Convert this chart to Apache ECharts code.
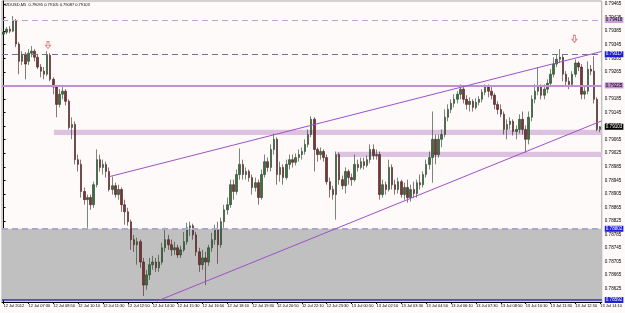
<!DOCTYPE html>
<html><head><meta charset="utf-8">
<script src="https://cdn.jsdelivr.net/npm/echarts@6/dist/echarts.min.js"></script>
<style>html,body{margin:0;padding:0;background:#fffafa}#c{width:625px;height:313px}</style>
</head><body><div id="c"></div>
<script>
const titleText = 'NZDUSD,M5  0.79095 0.79105 0.79087 0.79103';
const footerText = 'FxPro MT4, \u00a9 2001-2012, MetaQuotes Software Corp.';
const tickLabels = ['12 Jul 2012','12 Jul 07:30','12 Jul 08:50','12 Jul 10:10','12 Jul 11:30','12 Jul 12:50','12 Jul 14:10','12 Jul 15:30','12 Jul 16:50','12 Jul 18:10','12 Jul 19:30','12 Jul 20:50','12 Jul 22:10','12 Jul 23:30','13 Jul 00:50','13 Jul 02:10','13 Jul 03:30','13 Jul 04:50','13 Jul 06:10','13 Jul 07:30','13 Jul 08:50','13 Jul 10:10','13 Jul 11:30','13 Jul 12:50','13 Jul 14:10'];
const priceTicks = [0.78625,0.78665,0.78705,0.78745,0.78785,0.78825,0.78865,0.78905,0.78945,0.78985,0.79025,0.79065,0.79105,0.79145,0.79185,0.79225,0.79265,0.79305,0.79345,0.79385,0.79425,0.79465];

const opens = [
0.79376,0.79382,0.79391,0.79385,0.79415,0.79347,0.79296,0.79317,0.79296,0.79320,
0.79326,0.79308,0.79279,0.79267,0.79258,0.79314,0.79243,0.79220,0.79169,0.79199,
0.79208,0.79178,0.79101,0.79110,0.79006,0.78992,0.78912,0.78888,0.78894,0.78873,
0.78932,0.79006,0.78983,0.78992,0.78971,0.78918,0.78929,0.78903,0.78918,0.78873,
0.78852,0.78823,0.78770,0.78755,0.78764,0.78704,0.78636,0.78666,0.78696,0.78704,
0.78687,0.78704,0.78746,0.78770,0.78755,0.78740,0.78746,0.78725,0.78740,0.78764,
0.78805,0.78811,0.78784,0.78734,0.78696,0.78716,0.78704,0.78746,0.78770,0.78799,
0.78755,0.78823,0.78858,0.78873,0.78932,0.78912,0.78962,0.78992,0.78962,0.78971,
0.78953,0.78924,0.78938,0.78894,0.78962,0.79000,0.78983,0.79036,0.79066,0.78962,
0.78983,0.78953,0.78992,0.79006,0.78998,0.79012,0.79021,0.79030,0.79051,0.79080,
0.79125,0.79036,0.79021,0.79030,0.79012,0.78941,0.78918,0.78903,0.79021,0.78947,
0.78929,0.78971,0.78953,0.78947,0.78992,0.78983,0.79000,0.78989,0.79006,0.79036,
0.79018,0.79021,0.78903,0.78932,0.78918,0.78983,0.78932,0.78918,0.78941,0.78903,
0.78924,0.78894,0.78918,0.78906,0.78938,0.78932,0.78962,0.78992,0.79012,0.79066,
0.79021,0.79066,0.79080,0.79131,0.79154,0.79172,0.79184,0.79199,0.79214,0.79184,
0.79169,0.79178,0.79160,0.79175,0.79184,0.79205,0.79220,0.79208,0.79196,0.79169,
0.79154,0.79140,0.79095,0.79110,0.79119,0.79089,0.79095,0.79125,0.79095,0.79066,
0.79131,0.79184,0.79208,0.79220,0.79196,0.79214,0.79231,0.79258,0.79288,0.79302,
0.79308,0.79258,0.79237,0.79228,0.79258,0.79291,0.79279,0.79199,0.79208,0.79273,
0.79267,0.79184,0.79095];
const closes = [
0.79382,0.79391,0.79385,0.79415,0.79347,0.79296,0.79317,0.79288,0.79320,0.79326,
0.79308,0.79279,0.79267,0.79258,0.79314,0.79243,0.79220,0.79169,0.79199,0.79208,
0.79178,0.79101,0.79110,0.79006,0.78992,0.78912,0.78888,0.78894,0.78873,0.78932,
0.79006,0.78983,0.78992,0.78971,0.78918,0.78929,0.78903,0.78918,0.78873,0.78852,
0.78823,0.78770,0.78755,0.78764,0.78704,0.78636,0.78666,0.78696,0.78704,0.78687,
0.78704,0.78746,0.78770,0.78755,0.78740,0.78746,0.78725,0.78740,0.78764,0.78805,
0.78811,0.78784,0.78734,0.78696,0.78716,0.78704,0.78746,0.78770,0.78799,0.78755,
0.78823,0.78858,0.78873,0.78932,0.78912,0.78962,0.78992,0.78962,0.78971,0.78953,
0.78924,0.78938,0.78894,0.78962,0.79000,0.78983,0.79036,0.79066,0.78962,0.78983,
0.78953,0.78992,0.79006,0.78998,0.79012,0.79021,0.79030,0.79051,0.79080,0.79125,
0.79036,0.79021,0.79030,0.79012,0.78941,0.78918,0.78903,0.79021,0.78947,0.78929,
0.78971,0.78953,0.78947,0.78992,0.78983,0.79000,0.78989,0.79006,0.79036,0.79018,
0.79021,0.78903,0.78932,0.78918,0.78983,0.78932,0.78918,0.78941,0.78903,0.78924,
0.78894,0.78918,0.78906,0.78938,0.78932,0.78962,0.78992,0.79012,0.79066,0.79021,
0.79066,0.79080,0.79131,0.79154,0.79172,0.79184,0.79199,0.79214,0.79184,0.79169,
0.79178,0.79160,0.79175,0.79184,0.79205,0.79220,0.79208,0.79196,0.79169,0.79154,
0.79140,0.79095,0.79110,0.79119,0.79089,0.79095,0.79125,0.79095,0.79066,0.79131,
0.79184,0.79208,0.79220,0.79196,0.79214,0.79231,0.79258,0.79288,0.79302,0.79308,
0.79258,0.79237,0.79228,0.79258,0.79291,0.79279,0.79199,0.79208,0.79273,0.79267,
0.79184,0.79095,0.79103];
const lows = [
0.79370,0.79376,0.79379,0.79382,0.79338,0.79258,0.79285,0.79243,0.79285,0.79308,
0.79296,0.79273,0.79249,0.79243,0.79252,0.79237,0.79199,0.79131,0.79160,0.79184,
0.79166,0.79095,0.79066,0.78992,0.78971,0.78894,0.78873,0.78805,0.78858,0.78864,
0.78924,0.78971,0.78962,0.78953,0.78912,0.78903,0.78894,0.78888,0.78852,0.78814,
0.78811,0.78740,0.78734,0.78696,0.78687,0.78604,0.78622,0.78651,0.78681,0.78675,
0.78675,0.78696,0.78734,0.78740,0.78722,0.78725,0.78716,0.78716,0.78734,0.78755,
0.78781,0.78770,0.78722,0.78675,0.78681,0.78636,0.78693,0.78734,0.78755,0.78699,
0.78746,0.78805,0.78844,0.78864,0.78888,0.78903,0.78947,0.78947,0.78947,0.78941,
0.78903,0.78912,0.78873,0.78888,0.78953,0.78971,0.78971,0.79021,0.78932,0.78941,
0.78932,0.78947,0.78977,0.78983,0.78989,0.79000,0.79006,0.79021,0.79042,0.79072,
0.78971,0.79000,0.79006,0.79000,0.78932,0.78894,0.78888,0.78829,0.78932,0.78918,
0.78906,0.78932,0.78929,0.78941,0.78971,0.78977,0.78977,0.78983,0.78995,0.79006,
0.79006,0.78888,0.78894,0.78903,0.78912,0.78918,0.78903,0.78906,0.78894,0.78888,
0.78879,0.78882,0.78894,0.78894,0.78918,0.78924,0.78953,0.78977,0.78938,0.78992,
0.79012,0.79042,0.79072,0.79119,0.79143,0.79160,0.79172,0.79184,0.79172,0.79154,
0.79148,0.79148,0.79154,0.79166,0.79175,0.79196,0.79190,0.79184,0.79154,0.79140,
0.79131,0.79080,0.79066,0.79095,0.79077,0.79066,0.79083,0.79080,0.79027,0.79051,
0.79119,0.79172,0.79196,0.79184,0.79184,0.79202,0.79220,0.79249,0.79279,0.79291,
0.79237,0.79225,0.79214,0.79220,0.79249,0.79267,0.79184,0.79184,0.79199,0.79255,
0.79172,0.79090,0.79087];
const highs = [
0.79391,0.79397,0.79400,0.79430,0.79421,0.79353,0.79326,0.79323,0.79332,0.79341,
0.79332,0.79317,0.79288,0.79279,0.79326,0.79320,0.79249,0.79225,0.79214,0.79220,
0.79214,0.79184,0.79131,0.79119,0.79021,0.79006,0.78924,0.78903,0.78903,0.78941,
0.79036,0.79021,0.79006,0.79000,0.78983,0.78956,0.78938,0.78932,0.78924,0.78888,
0.78864,0.78829,0.78784,0.78776,0.78770,0.78716,0.78681,0.78716,0.78722,0.78716,
0.78725,0.78761,0.78805,0.78784,0.78770,0.78764,0.78755,0.78752,0.78793,0.78820,
0.78823,0.78817,0.78793,0.78746,0.78740,0.78734,0.78755,0.78790,0.78814,0.78823,
0.78835,0.78873,0.78894,0.78947,0.78947,0.78977,0.79039,0.79006,0.78983,0.78977,
0.78962,0.78953,0.78947,0.78977,0.79021,0.79012,0.79051,0.79083,0.79072,0.79000,
0.78992,0.79006,0.79021,0.79021,0.79024,0.79036,0.79042,0.79066,0.79095,0.79134,
0.79131,0.79042,0.79042,0.79036,0.79021,0.78953,0.78929,0.79030,0.79027,0.78959,
0.78983,0.78977,0.78965,0.79021,0.79006,0.79012,0.79012,0.79018,0.79051,0.79051,
0.79036,0.79030,0.78947,0.78941,0.79006,0.78992,0.78947,0.78953,0.78947,0.78938,
0.78947,0.78932,0.78941,0.78947,0.78962,0.78971,0.79006,0.79030,0.79148,0.79080,
0.79080,0.79095,0.79154,0.79169,0.79184,0.79199,0.79208,0.79228,0.79220,0.79196,
0.79190,0.79184,0.79187,0.79193,0.79214,0.79228,0.79228,0.79220,0.79202,0.79178,
0.79169,0.79148,0.79125,0.79131,0.79125,0.79107,0.79140,0.79148,0.79107,0.79148,
0.79196,0.79228,0.79279,0.79228,0.79228,0.79243,0.79273,0.79308,0.79317,0.79332,
0.79317,0.79267,0.79249,0.79267,0.79302,0.79296,0.79288,0.79220,0.79296,0.79285,
0.79311,0.79190,0.79105];

// horizontal objects
const hLevels = [0.79418, 0.79317, 0.79225, 0.78802, 0.78592];
const lastPrice = 0.79103;
// trend lines: [[barIndex, price], [barIndex, price]]
const upperTrend = [[34.1, 0.78956], [192.4, 0.79325]];
const lowerTrend = [[49.5, 0.78589], [192.4, 0.79120]];
// rectangles: [barStart, barEnd, priceTop, priceBottom]
const band1 = [16.2, 192.5, 0.79094, 0.79079];
const band2 = [107.2, 192.5, 0.79029, 0.79014];
const grayZone = [-0.5, 192.5, 0.78802, 0.78592];
// arrows: [barIndex, price]
const arrows = [[14.3, 0.79344], [183.7, 0.79362]];

const N = opens.length;
const cats = opens.map((_, i) => i);
const ohlc = opens.map((o, i) => [o, closes[i], lows[i], highs[i]]);
const X0 = -0.5, X1 = N - 0.5;

const chart = echarts.init(document.getElementById('c'), null, {renderer: 'canvas'});
const FONT = 'Liberation Sans';
function hLine(v, color, type, width, bg, fg) {
  return [
    {coord: [X0, v], lineStyle: {color: color, type: type, width: width},
     label: {show: true, position: 'end', distance: 3, formatter: v.toFixed(5),
       backgroundColor: bg, color: fg, fontSize: 4.6, fontFamily: FONT, padding: [1, 1, 0, 1]}},
    {coord: [X1, v]}
  ];
}
const option = {
  animation: false,
  backgroundColor: '#fffafa',
  grid: {left: 2, right: 21, top: 1, bottom: 11, show: true, borderColor: '#a8a8a8', borderWidth: 1, backgroundColor: '#fffafa'},
  xAxis: [{
    type: 'category', data: cats, boundaryGap: true,
    axisLine: {lineStyle: {color: '#000', width: 1}},
    axisTick: {show: true, interval: 7, alignWithLabel: true, length: 2, lineStyle: {color: '#000'}},
    axisLabel: {interval: 7, align: 'left', margin: 2, fontSize: 4, fontFamily: FONT, color: '#000',
      formatter: (v, idx) => (idx % 8 === 0 ? tickLabels[idx / 8] : '')},
    splitLine: {show: false}
  }, {
    type: 'value', min: X0, max: X1, show: false
  }],
  yAxis: {
    type: 'value', position: 'right', min: 0.78586, max: 0.79474, scale: true,
    axisLine: {show: true, lineStyle: {color: '#000'}},
    axisTick: {show: true, length: 2, customValues: priceTicks, lineStyle: {color: '#000'}},
    axisLabel: {customValues: priceTicks, margin: 3, fontSize: 4.6, fontFamily: FONT, color: '#000',
      formatter: v => v.toFixed(5)},
    splitLine: {show: false}
  },
  graphic: [
    {type: 'text', left: 3, top: 3, style: {text: titleText, fontSize: 4, fontFamily: FONT, fill: '#000'}},
    {type: 'text', left: 3, top: 296, style: {text: footerText, fontSize: 4, fontFamily: FONT, fill: '#000'}}
  ],
  series: [
    {
      type: 'line', xAxisIndex: 1, data: [], z: 1, silent: true,
      markArea: {silent: true, data: [
        [{coord: [grayZone[0], grayZone[2]], itemStyle: {color: '#c0c0c0'}}, {coord: [grayZone[1], grayZone[3]]}],
        [{coord: [band1[0], band1[2]], itemStyle: {color: '#dcc2e0'}}, {coord: [band1[1], band1[3]]}],
        [{coord: [band2[0], band2[2]], itemStyle: {color: '#dcc2e0'}}, {coord: [band2[1], band2[3]]}]
      ]}
    },
    {
      type: 'candlestick', data: ohlc, z: 2, barWidth: 2,
      itemStyle: {color: '#3c7040', color0: '#7a3434', borderColor: '#1e3a20', borderColor0: '#3e1a1a', borderWidth: 0.6}
    },
    {
      type: 'scatter', xAxisIndex: 1, z: 4, silent: true, data: arrows,
      symbol: 'path://M3,0 L7,0 L7,6 L10,6 L5,11 L0,6 L3,6 Z', symbolSize: [5, 7],
      itemStyle: {color: 'rgba(0,0,0,0)', borderColor: '#e06060', borderWidth: 1}
    },
    {
      type: 'line', xAxisIndex: 1, data: [], z: 3, silent: true,
      markLine: {silent: true, symbol: 'none', animation: false, data: [
        hLine(hLevels[0], '#c8a0d8', [6, 4], 1, '#c8a0d8', '#000'),
        hLine(hLevels[1], '#707090', [6, 4], 1, '#1c1cd8', '#fff'),
        hLine(hLevels[2], '#c090d0', 'solid', 2, '#c090d0', '#000'),
        hLine(hLevels[3], '#a8a8c8', [6, 4], 2, '#1c1cd8', '#fff'),
        hLine(hLevels[4], '#3030b0', 'solid', 1.5, '#1c1cd8', '#fff'),
        hLine(lastPrice, 'rgba(0,0,0,0)', 'solid', 1, '#000', '#fff'),
        [{coord: upperTrend[0], lineStyle: {color: '#a050c8', type: 'solid', width: 1}, label: {show: false}}, {coord: upperTrend[1]}],
        [{coord: lowerTrend[0], lineStyle: {color: '#a050c8', type: 'solid', width: 1}, label: {show: false}}, {coord: lowerTrend[1]}]
      ]}
    }
  ]
};
chart.setOption(option);
</script></body></html>
